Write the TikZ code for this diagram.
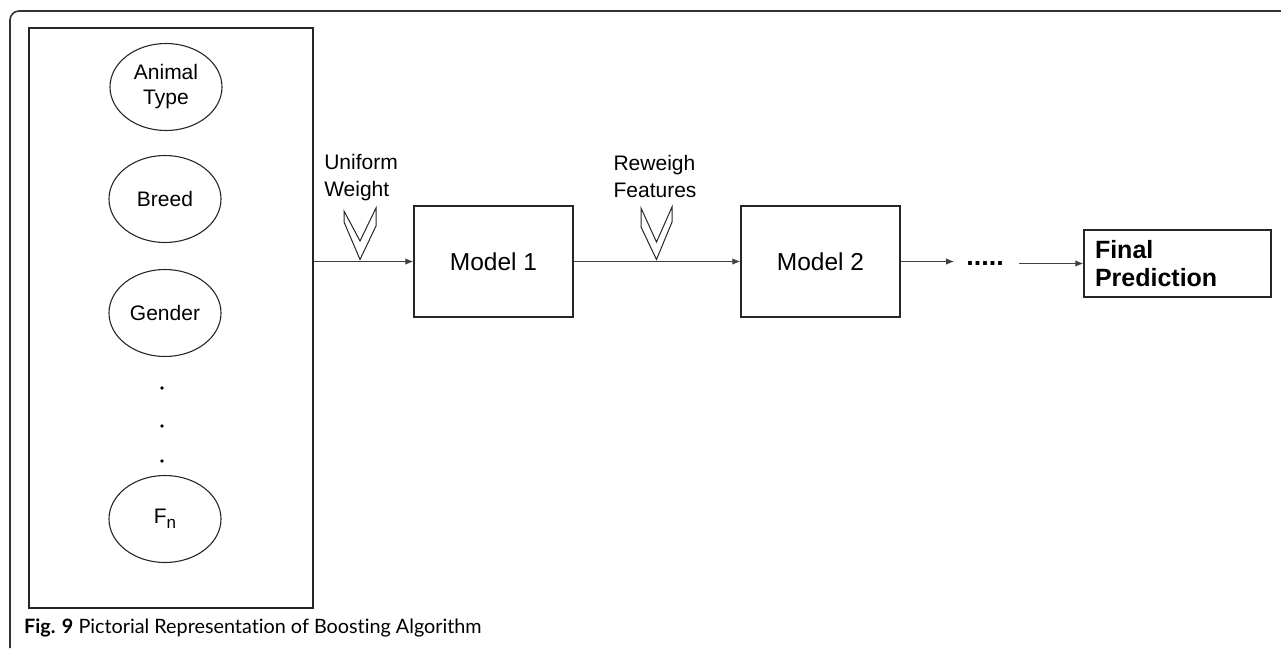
\documentclass[tikz,border=0pt]{standalone}
\usepackage{fontspec}
\setmainfont{Liberation Sans}
\newfontfamily\capfont[Ligatures=NoCommon]{Lato}
\usetikzlibrary{arrows.meta,shapes.geometric}
\begin{document}
\begin{tikzpicture}[x=1pt,y=-1pt,
  feature/.style={draw=black!85,line width=1.1pt,ellipse,inner sep=0pt,
    minimum width=112pt,minimum height=87pt,align=center,
    font=\fontsize{21}{25}\selectfont},
  modelbox/.style={draw=black!85,line width=1.4pt,inner sep=0pt,
    minimum width=159pt,minimum height=111pt,
    font=\fontsize{24.5}{28}\selectfont},
  weightlabel/.style={align=left,inner sep=0pt,
    font=\fontsize{21}{27}\selectfont},
  flow/.style={draw=black!75,line width=1pt,-{Latex[length=8pt,width=6.5pt]}},
  chevron/.style={draw=black!85,line width=1pt,fill=white,line join=miter},
  dot/.style={fill=black,circle,inner sep=0pt,minimum size=3.6pt}]
\useasboundingbox (0,0) rectangle (1281,651);
% outer frame of the figure panel
\draw[black!80,line width=1.6pt,rounded corners=9pt]
  (1282,11) -- (10,11) -- (10,648);
% feature column
\node[draw=black!85,line width=1.3pt,minimum width=284pt,minimum height=580pt,
  inner sep=0pt] (feat) at (171,318) {};
\node[feature] (animal) at (166,87) {Animal\\Type};
\node[feature] (breed) at (165,199) {Breed};
\node[feature] (gender) at (165,313) {Gender};
\node[dot] (d1) at (162,388) {};
\node[dot] (d2) at (162,426) {};
\node[dot] (d3) at (162,461) {};
\node[feature] (fn) at (165,519) {F\raisebox{-5pt}{\fontsize{17}{17}\selectfont n}};
% models
\node[modelbox] (m1) at (493.5,261.5) {Model 1};
\node[modelbox] (m2) at (820.5,261.5) {Model 2};
\node[draw=black!85,line width=1.4pt,minimum width=187pt,minimum height=67pt,
  inner sep=0pt,text width=165pt,align=left,
  font=\bfseries\fontsize{25}{28}\selectfont] (final) at (1177.5,263.5)
  {Final\\Prediction};
\node[inner sep=0pt,font=\bfseries\fontsize{27}{27}\selectfont] (dots) at (985,263) {.....};
% connectors
\draw[flow] (feat.east |- m1.west) -- (m1.west);
\draw[flow] (m1.east) -- (m2.west);
\draw[flow] (m2.east) -- ([xshift=-12pt]dots.west |- m2.east);
\draw[flow] ([xshift=15pt]dots.east |- final.west) -- (final.west);
% weighting labels and chevrons
\node[weightlabel] (uw) at (361,178) {Uniform\\Weight};
\node[weightlabel] (rf) at (655,176) {Reweigh\\Features};
\draw[chevron] (344,211) -- (344,222) -- (360,259.5) -- (376,226) -- (376,208)
  -- (360,241) -- cycle;
\draw[chevron] (641,208) -- (641,227) -- (656.5,259.5) -- (672,222) -- (672,207)
  -- (656.5,242) -- cycle;
% caption
\node[anchor=west,inner sep=0pt,font=\capfont\fontsize{19.8}{22}\selectfont]
  (cap) at (24,628) {\textbf{Fig. 9} Pictorial Representation of Boosting Algorithm};
\end{tikzpicture}
\end{document}
